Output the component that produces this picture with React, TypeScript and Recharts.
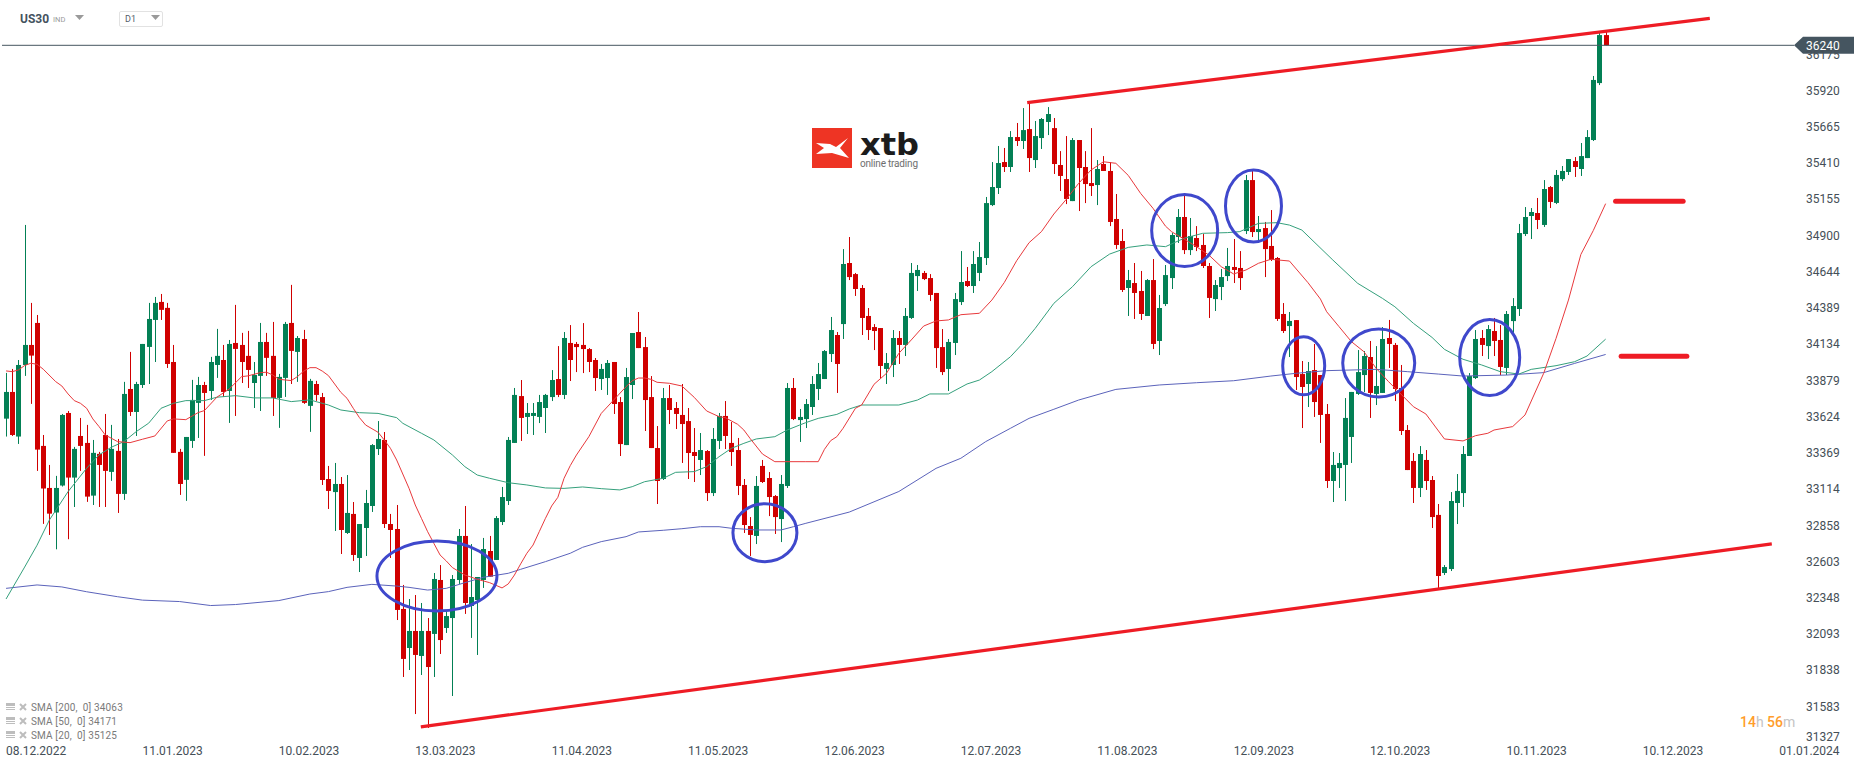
import React from 'react';
import { ComposedChart, Bar, Line, XAxis, YAxis, ReferenceLine, ReferenceDot } from 'recharts';

const opens = [
  33611,33799,33485,33989,34130,34285,33419,33123,32950,33140,
  33651,33196,33489,33440,33069,33363,33496,33236,33384,33081,
  33820,33658,33848,34116,34306,34433,34391,34010,33377,33180,
  33454,33722,33848,33806,33989,34024,33806,34144,34130,34053,
  33862,33912,34151,34053,33757,33898,34285,34081,34172,33701,
  33855,33763,33186,33094,33151,32806,32940,32630,32841,32996,
  33397,33461,32869,32834,32271,31996,32116,31940,32116,32095,
  32475,32137,32207,32475,32785,32292,32334,32475,32679,32616,
  32883,33031,33440,33770,33623,33630,33623,33686,33763,33890,
  33778,34144,34137,34130,34101,34024,33890,33897,34010,33728,
  33425,33848,34221,34115,33763,33404,33186,33756,33686,33637,
  33594,33376,33320,33383,33087,33454,33630,33440,33390,33144,
  32855,32785,33278,33193,33066,32904,33137,33827,33601,33608,
  33693,33820,33890,34066,34200,34277,34707,34629,34531,34334,
  34256,34249,33961,33989,34179,34130,34320,34615,34637,34601,
  34496,34115,33961,34144,34432,34580,34545,34637,34742,35115,
  35235,35418,35383,35594,35566,35650,35432,35587,35700,35657,
  35397,35298,35143,35573,35383,35270,35256,35404,35355,35017,
  34862,34531,34566,34510,34334,34587,34158,34418,34601,34890,
  35031,34798,34883,34834,34686,34453,34538,34615,34679,34672,
  34932,35291,34925,34953,34827,34742,34348,34263,34305,33925,
  33855,33953,33918,33644,33172,33263,33285,33482,33785,33918,
  34045,33785,33792,34179,34130,33827,33531,33313,33123,33320,
  33179,32933,32524,32552,33017,33087,33348,33897,34179,34122,
  34228,34165,33968,34298,34383,34911,35038,35059,34975,35242,
  35130,35298,35348,35425,35369,35446,35573,35974,36312,
];
const closes = [
  33799,33496,33989,34130,34055,33393,33119,32942,33123,33637,
  33196,33398,33419,33062,33370,33285,33243,33398,33081,33785,
  33658,33855,34137,34313,34426,34377,33996,33370,33151,33482,
  33743,33848,33792,34010,34053,33799,34137,34102,34010,33954,
  33919,34151,34039,33757,33905,34278,34088,34179,33722,33877,
  33778,33179,33102,33151,32827,32947,32651,32869,33017,33425,
  33468,32869,32827,32264,31919,32116,31947,32116,31862,32482,
  32052,32221,32482,32785,32313,32355,32496,32693,32498,32911,
  33059,33461,33778,33616,33651,33651,33728,33778,33883,33778,
  34179,34024,34115,34101,34010,33897,33961,34003,33714,33432,
  33904,34214,34108,33742,33404,33172,33756,33672,33644,33573,
  33369,33348,33390,33087,33468,33630,33489,33376,33137,32862,
  32792,33137,33165,33059,32918,33151,33827,33608,33623,33714,
  33855,33925,34087,34235,33996,34700,34608,34524,34320,34235,
  34228,33982,34003,34179,34130,34334,34637,34658,34594,34482,
  34108,33939,34151,34453,34573,34545,34700,34749,35129,35242,
  35411,35383,35594,35566,35643,35446,35601,35721,35756,35404,
  35320,35158,35573,35376,35263,35249,35369,35355,34996,34834,
  34517,34587,34496,34348,34587,34137,34390,34622,34904,35031,
  34798,34897,34820,34686,34461,34552,34608,34686,34658,34601,
  35291,34925,34946,34805,34728,34313,34228,34299,33904,33834,
  33946,33728,33637,33172,33285,33299,33616,33799,33939,34052,
  33792,33841,34172,34137,33820,33524,33249,33123,33362,33172,
  32918,32503,32566,33031,33102,33362,33911,34172,34130,34242,
  34158,33975,34348,34404,34918,35031,35066,35010,35228,35137,
  35327,35355,35439,35383,35460,35594,35996,36312,36240,
];
const highs = [
  33933,33961,34024,34975,34426,34341,33496,33285,33208,33644,
  33665,33412,33616,33567,33461,33377,33644,33567,33468,33870,
  34081,33870,34137,34426,34468,34489,34426,34130,33398,33482,
  33884,33905,33870,34046,34243,34130,34165,34412,34215,34229,
  34010,34285,34215,34292,33926,34292,34553,34193,34236,33891,
  33877,33792,33278,33299,33200,33214,33024,32869,33109,33432,
  33594,33517,32940,33003,32440,32341,32369,32313,32207,32524,
  32580,32257,32510,32834,32996,32728,32496,32771,32785,32925,
  33130,33482,33827,33883,33721,33721,33778,33785,33953,34122,
  34221,34270,34151,34284,34108,34038,33996,34024,34010,33763,
  33968,34214,34362,34186,33911,33559,33827,33848,33728,33855,
  33686,33545,33510,33390,33545,33651,33735,33587,33475,33186,
  32918,33207,33320,33235,33073,33214,33862,33897,33679,33749,
  33911,34003,34094,34327,34221,34805,34890,34637,34552,34390,
  34277,34249,34073,34235,34228,34390,34707,34693,34651,34629,
  34496,34242,34172,34496,34791,34679,34791,34855,35172,35418,
  35531,35517,35636,35693,35798,35833,35707,35728,35805,35728,
  35495,35601,35587,35573,35495,35657,35432,35460,35418,35193,
  34946,34658,34707,34651,34594,34735,34482,34693,34918,35087,
  35179,35024,34967,34911,34707,34587,34665,34813,34876,34791,
  35327,35355,35038,34996,35080,34749,34425,34362,34305,34017,
  34010,34137,33918,33714,33376,33369,33756,33799,34094,34087,
  34158,34122,34256,34306,34144,33989,33566,33369,33418,33390,
  33207,33010,32580,33094,33221,33418,33932,34235,34235,34270,
  34320,34270,34369,34460,34982,35101,35094,35165,35291,35249,
  35362,35390,35439,35453,35552,35643,36024,36334,36341,
];
const lows = [
  33485,33489,33433,33912,33715,33243,32870,32792,32691,33133,
  32762,32989,33243,33025,33003,32989,32989,33173,32947,33039,
  33630,33489,33827,33855,34010,34306,33968,33370,33074,33032,
  33405,33475,33349,33743,33898,33764,33581,33630,33862,33827,
  33686,33665,33912,33630,33546,33764,33855,33870,33715,33518,
  33736,33144,32975,32820,32658,32799,32609,32531,32644,32954,
  33355,32841,32630,32193,31792,31841,31531,31806,31433,31792,
  31954,32102,31658,32447,32236,32067,31947,32419,32498,32616,
  32862,33003,33440,33454,33503,33496,33580,33510,33735,33763,
  33749,33876,33939,33932,33939,33806,33813,33778,33644,33348,
  33425,33749,34108,33524,33404,33010,33179,33573,33538,33299,
  33186,33165,33214,33031,33066,33397,33397,33278,33073,32806,
  32644,32728,33158,32925,32799,32742,33123,33601,33447,33545,
  33637,33742,33890,34010,33792,34172,34587,34475,34200,34165,
  34094,33897,33855,33904,33996,34052,34313,34510,34587,34439,
  33968,33918,33806,34059,34411,34538,34496,34580,34693,35108,
  35193,35348,35348,35531,35510,35348,35376,35510,35608,35334,
  35214,35122,35143,35073,35129,35179,35115,35355,34967,34806,
  34503,34334,34313,34306,34334,34101,34059,34404,34524,34848,
  34770,34763,34791,34672,34320,34369,34446,34580,34566,34517,
  34911,34890,34848,34608,34721,34299,34214,34045,33813,33545,
  33693,33623,33440,33123,33024,33123,33031,33299,33778,33799,
  33616,33707,33792,33968,33735,33496,33249,33017,33059,33109,
  32841,32419,32510,32538,32869,32989,33348,33890,34052,34031,
  34052,33918,33918,34207,34334,34897,34876,34946,34961,35094,
  35122,35284,35327,35313,35320,35446,35566,35960,36240,
];

// moving averages, read at every few candles: [candle index, value]
const sma20 = [
  [0,33947],[1,33942],[2,33954],[3,33985],[4,34001],[5,33994],[6,33959],[8,33872],[9,33841],[10,33785],
  [11,33738],[12,33719],[13,33684],[14,33609],[15,33555],[16,33496],[18,33449],[20,33442],[22,33466],[24,33489],
  [26,33595],[27,33609],[29,33604],[31,33654],[32,33668],[34,33762],[36,33820],[38,33907],[39,33912],[41,33935],
  [42,33938],[43,33919],[44,33888],[46,33879],[47,33907],[48,33945],[49,33970],[50,33970],[51,33946],[52,33914],
  [53,33855],[54,33796],[55,33754],[56,33684],[57,33618],[58,33566],[60,33515],[61,33461],[62,33402],[63,33320],
  [65,33120],[66,33003],[67,32909],[68,32815],[69,32733],[70,32651],[71,32609],[72,32562],[74,32510],[76,32480],
  [78,32456],[80,32419],[81,32447],[82,32510],[83,32588],[84,32663],[85,32721],[86,32815],[87,32909],[88,32996],
  [89,33057],[90,33191],[91,33280],[92,33355],[94,33484],[96,33648],[98,33742],[100,33836],[101,33878],[102,33897],
  [103,33897],[104,33888],[105,33867],[107,33860],[109,33841],[111,33761],[113,33665],[115,33625],[116,33618],[118,33571],
  [119,33531],[120,33472],[122,33362],[124,33308],[129,33308],[131,33308],[132,33395],[133,33456],[134,33484],[135,33543],
  [137,33684],[138,33707],[140,33853],[142,33930],[144,34071],[146,34165],[148,34263],[150,34299],[152,34306],[154,34343],
  [157,34353],[159,34446],[161,34569],[163,34723],[165,34850],[167,34928],[169,35052],[171,35155],[173,35268],[175,35362],
  [177,35420],[179,35409],[181,35324],[183,35197],[185,35092],[187,34967],[188,34927],[190,34876],[192,34822],[194,34763],
  [196,34681],[198,34630],[200,34658],[202,34705],[204,34733],[207,34721],[210,34568],[212,34453],[213,34364],[215,34259],
  [217,34153],[219,34083],[221,33965],[223,33871],[227,33695],[229,33644],[232,33468],[235,33454],[237,33491],[239,33508],
  [240,33531],[243,33555],[245,33637],[248,33930],[250,34176],[252,34446],[254,34767],[256,34935],[258,35125],
];
const sma50 = [
  [0,32341],[3,32566],[5,32720],[7,32898],[10,33097],[13,33262],[15,33356],[17,33410],[19,33449],[21,33520],
  [23,33579],[25,33684],[27,33719],[29,33738],[32,33738],[34,33762],[37,33773],[40,33757],[43,33757],[46,33731],
  [49,33743],[52,33707],[54,33672],[57,33653],[60,33648],[63,33618],[64,33578],[67,33508],[69,33461],[72,33355],
  [74,33273],[76,33214],[78,33191],[81,33160],[84,33144],[87,33123],[90,33120],[93,33130],[96,33118],[99,33109],
  [101,33132],[103,33167],[106,33191],[108,33233],[111,33238],[113,33273],[115,33343],[117,33402],[119,33437],[121,33468],
  [124,33484],[126,33531],[128,33566],[129,33583],[131,33613],[134,33641],[136,33679],[138,33707],[144,33707],[147,33742],
  [149,33785],[152,33785],[155,33855],[157,33883],[159,33942],[162,34047],[164,34141],[166,34247],[169,34423],[172,34540],
  [175,34681],[178,34770],[181,34817],[184,34834],[187,34822],[190,34881],[193,34916],[197,34921],[199,34928],[202,34986],
  [205,34991],[207,34974],[209,34939],[214,34728],[218,34564],[222,34458],[224,34399],[227,34282],[230,34183],[232,34099],
  [235,34029],[238,33989],[241,33942],[244,33925],[246,33958],[250,33984],[253,34012],[255,34052],[258,34171],
];
const sma200 = [
  [0,32416],[5,32440],[9,32426],[13,32392],[18,32357],[22,32333],[28,32323],[33,32295],[37,32302],[44,32330],
  [49,32376],[52,32393],[55,32423],[59,32444],[63,32432],[65,32423],[68,32404],[71,32416],[74,32456],[77,32494],
  [81,32522],[83,32550],[87,32604],[91,32663],[93,32705],[96,32745],[100,32780],[102,32813],[106,32825],[109,32836],
  [112,32850],[115,32850],[117,32839],[121,32827],[125,32827],[127,32850],[129,32874],[136,32953],[144,33098],[150,33261],
  [154,33332],[158,33449],[162,33543],[165,33613],[169,33677],[173,33742],[179,33817],[186,33848],[192,33864],[198,33878],
  [204,33911],[208,33930],[213,33949],[221,33958],[226,33942],[231,33925],[235,33911],[242,33918],[248,33935],[253,34000],
  [258,34063],
];

const priceTicks = [31327,31583,31838,32093,32348,32603,32858,33114,33369,33624,33879,34134,34389,34644,34900,35155,35410,35665,35920,36175];
const dateIdx = [0,22,44,66,88,110,132,154,176,198,220,242,264,286];
const dateLabels = ['08.12.2022','11.01.2023','10.02.2023','13.03.2023','11.04.2023','11.05.2023','12.06.2023','12.07.2023','11.08.2023','12.09.2023','12.10.2023','10.11.2023','10.12.2023','01.01.2024'];
const smaLegend = ['SMA [200,  0] 34063', 'SMA [50,  0] 34171', 'SMA [20,  0] 35125'];
const lastPrice = 36240;

// hand drawn things on the chart, in candle index / price
const upperTrend = [[164.7,35836],[274.8,36430]];
const lowerTrend = [[66.9,31441],[284.8,32729]];
const levelMarks = [[[259.6,35141],[270.5,35141]],[[260.5,34050],[271.1,34050]]];
const circles = [
  [69.5,32503,60,35],[122.4,32808,32,29],[190.1,34936,33,36],[201.2,35108,28,36],
  [209.3,33983,21,29],[221.4,34003,36,34],[239.3,34041,30,38],
];

const lookup = (pts: number[][]) => new Map(pts.map((p) => [p[0], p[1]]));
const s20 = lookup(sma20);
const s50 = lookup(sma50);
const s200 = lookup(sma200);

const rows = opens.map((o, i) => ({
  i,
  open: o,
  close: closes[i],
  high: highs[i],
  low: lows[i],
  sma20: s20.get(i) ?? null,
  sma50: s50.get(i) ?? null,
  sma200: s200.get(i) ?? null,
}));

const GREEN = '#038055';
const RED = '#d00000';
const TREND_RED = '#ee1c25';

function Candle(props: any) {
  const { x, y, width, height, payload } = props;
  const perUnit = height / (payload.high - payload.low);
  const cx = Math.floor(x + width / 2);
  const top = y + (payload.high - Math.max(payload.open, payload.close)) * perUnit;
  const h = Math.abs(payload.open - payload.close) * perUnit;
  const color = payload.close >= payload.open ? GREEN : RED;
  return (
    <g>
      <rect x={cx} y={y} width={1} height={height} fill={color} />
      <rect x={cx - 2} y={top} width={5} height={Math.max(h, 1)} fill={color} />
    </g>
  );
}

const DateTick = (props: any) => {
  const { x, payload } = props;
  return (
    <text x={x} y={755} fontSize={12} fontFamily="Roboto" fill="#454f57">
      {dateLabels[dateIdx.indexOf(payload.value)]}
    </text>
  );
};

const PriceTick = (props: any) => {
  const { y, payload } = props;
  const yy = payload.value === 31327 ? 741 : y + 4;
  return (
    <text x={1806} y={yy} fontSize={12} fontFamily="Roboto" fill="#454f57">
      {payload.value}
    </text>
  );
};

const ring = (rx: number, ry: number) => (p: any) => (
  <ellipse cx={p.cx} cy={p.cy} rx={rx} ry={ry} fill="none" stroke="#3f48cc" strokeWidth={3} />
);

const priceTag = (p: any) => (
  <g>
    <polygon
      points={`${p.cx},${p.cy} ${p.cx + 9},${p.cy - 8.5} ${p.cx + 60},${p.cy - 8.5} ${p.cx + 60},${p.cy + 8.5} ${p.cx + 9},${p.cy + 8.5}`}
      fill="#455560"
    />
    <text x={1806} y={p.cy + 4.5} fontSize={12} fontFamily="Roboto" fill="#ffffff">{lastPrice}</text>
  </g>
);

const Tri = ({ x, y }: { x: number; y: number }) => (
  <svg style={{ position: 'absolute', left: x, top: y }} width={9} height={5}>
    <polygon points="0,0 9,0 4.5,5" fill="#9a9a9a" />
  </svg>
);

const abs = (left: number, top: number, extra: any = {}) => ({ position: 'absolute', left, top, whiteSpace: 'pre', fontFamily: 'Roboto', ...extra });

export default function App() {
  return (
    <div style={{ position: 'relative', width: 1866, height: 767, overflow: 'hidden', background: '#fff' }}>
      <style>{'body{margin:0}'}</style>
      <ComposedChart width={1866} height={767} data={rows} margin={{ top: 0, right: 0, bottom: 0, left: 0 }}>
        <XAxis
          dataKey="i"
          type="number"
          domain={[-0.976, 288.38]}
          allowDataOverflow
          ticks={dateIdx}
          interval={0}
          height={24}
          axisLine={false}
          tickLine={false}
          tick={DateTick}
        />
        <YAxis
          type="number"
          orientation="right"
          domain={[31327, 36559]}
          allowDataOverflow
          ticks={priceTicks}
          interval={0}
          width={72}
          axisLine={false}
          tickLine={false}
          tick={PriceTick}
        />
        <Bar dataKey={(d: any) => [d.low, d.high]} barSize={5} shape={Candle} isAnimationActive={false} />
        <Line dataKey="sma200" stroke="#5b63bb" strokeWidth={1} dot={false} activeDot={false} connectNulls isAnimationActive={false} />
        <Line dataKey="sma50" stroke="#35a07c" strokeWidth={1} dot={false} activeDot={false} connectNulls isAnimationActive={false} />
        <Line dataKey="sma20" stroke="#e8393c" strokeWidth={1} dot={false} activeDot={false} connectNulls isAnimationActive={false} />
        <ReferenceLine
          segment={[{ x: -0.65, y: lastPrice }, { x: 288.38, y: lastPrice }]}
          stroke="#455560"
          strokeWidth={1}
          ifOverflow="visible"
        />
        <ReferenceLine
          segment={[{ x: upperTrend[0][0], y: upperTrend[0][1] }, { x: upperTrend[1][0], y: upperTrend[1][1] }]}
          stroke={TREND_RED}
          strokeWidth={3.2}
          ifOverflow="visible"
        />
        <ReferenceLine
          segment={[{ x: lowerTrend[0][0], y: lowerTrend[0][1] }, { x: lowerTrend[1][0], y: lowerTrend[1][1] }]}
          stroke={TREND_RED}
          strokeWidth={3.2}
          ifOverflow="visible"
        />
        {levelMarks.map((m, k) => (
          <ReferenceLine
            key={k}
            segment={[{ x: m[0][0], y: m[0][1] }, { x: m[1][0], y: m[1][1] }]}
            stroke={TREND_RED}
            strokeWidth={5}
            strokeLinecap="round"
            ifOverflow="visible"
          />
        ))}
        {circles.map((c, k) => (
          <ReferenceDot key={k} x={c[0]} y={c[1]} r={1} shape={ring(c[2], c[3])} ifOverflow="visible" />
        ))}
        <ReferenceDot x={288.38} y={lastPrice} r={1} shape={priceTag} ifOverflow="visible" />
      </ComposedChart>

      {/* toolbar */}
      <div style={abs(20, 12, { fontSize: 12, fontWeight: 700, color: '#44525e' })}>US30</div>
      <div style={abs(53, 15, { fontSize: 7.5, color: '#9a9a9a' })}>IND</div>
      <Tri x={75} y={15} />
      <div style={{ position: 'absolute', left: 119, top: 11, width: 42, height: 14, border: '1px solid #e2e2e2', borderRadius: 2 }} />
      <div style={abs(125, 14, { fontSize: 9, color: '#55606a' })}>D1</div>
      <Tri x={151} y={15} />

      {/* logo */}
      <svg style={{ position: 'absolute', left: 812, top: 128 }} width={112} height={48}>
        <rect width={40} height={40} fill="#ee3424" />
        <polygon points="4,15 18,16 24,19 36,10 28,20 37,30 20,25 4,26 12,20" fill="#fff" />
        <text x={48} y={27} fontSize={30} fontWeight={700} fontFamily="DejaVu Sans" fill="#1c1c1c" textLength={59} lengthAdjust="spacingAndGlyphs">xtb</text>
        <text x={48} y={39} fontSize={10} fontFamily="Roboto" fill="#6e6e6e" textLength={58}>online trading</text>
      </svg>

      {/* sma legend */}
      {smaLegend.map((t, k) => (
        <React.Fragment key={t}>
          <svg style={{ position: 'absolute', left: 6, top: 703 + k * 14 }} width={22} height={10}>
            <rect x={0} y={0} width={9} height={3} fill="#bdbdbd" />
            <rect x={0} y={4} width={9} height={1} fill="#bdbdbd" />
            <rect x={0} y={6} width={9} height={1} fill="#bdbdbd" />
            <path d="M14 1 L20 7 M20 1 L14 7" stroke="#bdbdbd" strokeWidth={2} />
          </svg>
          <div style={abs(31, 702 + k * 14, { fontSize: 10, letterSpacing: 0.15, color: '#7a7a7a' })}>{t}</div>
        </React.Fragment>
      ))}

      {/* countdown */}
      <div style={abs(1740, 714, { fontSize: 14, color: '#c4c4c4' })}>
        <span style={{ color: '#ff9d2b', fontWeight: 500 }}>14</span>h <span style={{ color: '#ff9d2b', fontWeight: 500 }}>56</span>m
      </div>
    </div>
  );
}
